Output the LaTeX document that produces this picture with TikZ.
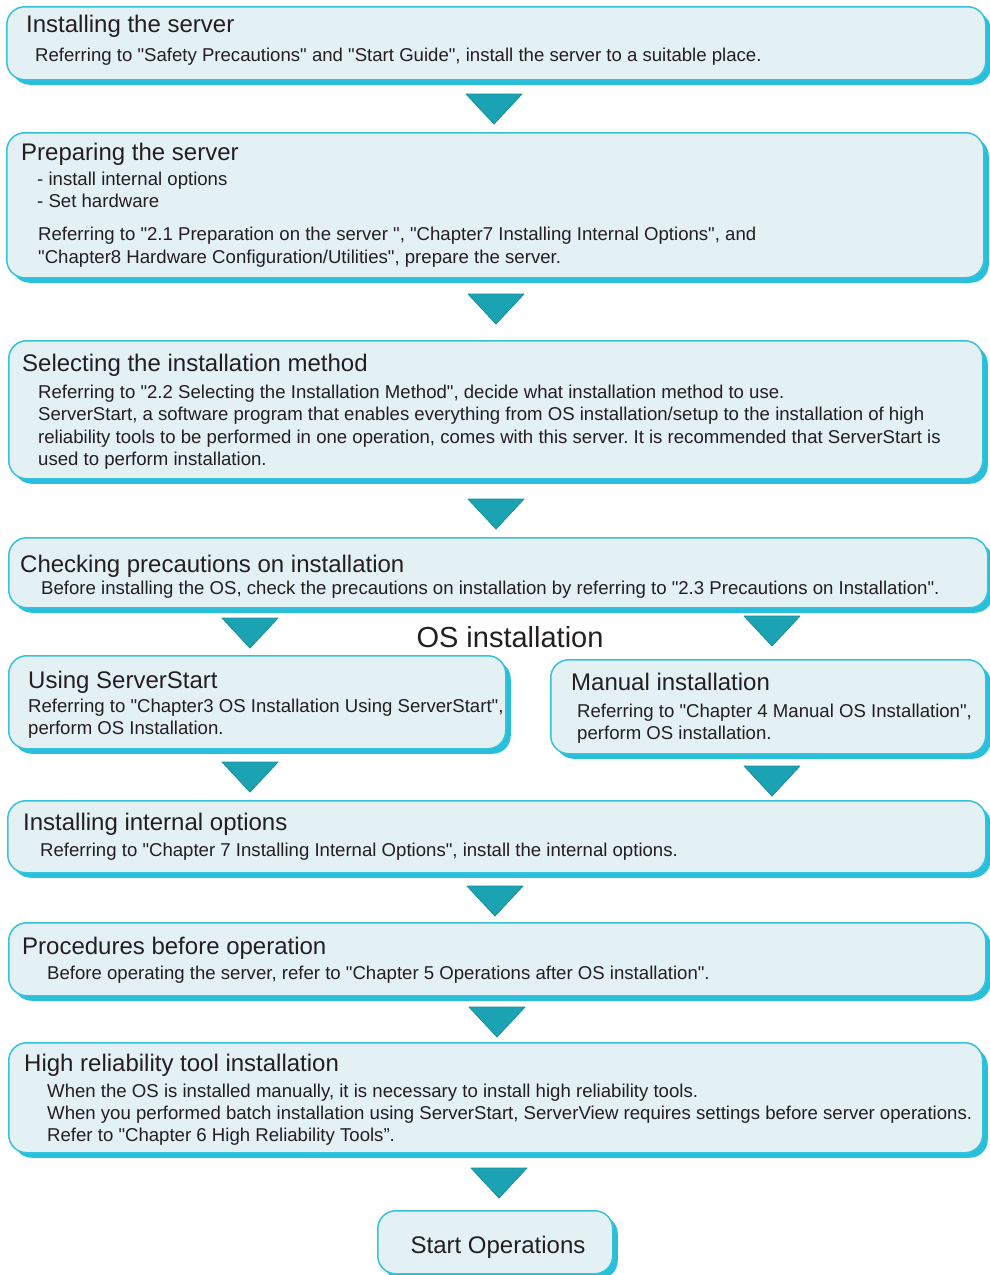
\documentclass[tikz,border=0pt]{standalone}
\usepackage{fontspec}
\setmainfont{Liberation Sans}[Ligatures=TeXOff]
\usetikzlibrary{shadows}
\definecolor{boxfill}{HTML}{E3F0F4}
\definecolor{boxline}{HTML}{36C2DC}
\definecolor{shadowc}{HTML}{27BFDA}
\definecolor{trifill}{HTML}{1BA3B4}
\definecolor{triline}{HTML}{178E9B}
\definecolor{txt}{HTML}{231F20}
\frenchspacing
\tikzset{
  stage/.style={draw=boxline, line width=1.5pt, fill=boxfill, rounded corners=18pt,
    anchor=north west, inner sep=0pt,
    drop shadow={shadow xshift=5pt, shadow yshift=-5pt, fill=shadowc, opacity=1}},
  ttl/.style={anchor=west, inner sep=0pt, text=txt, font=\fontsize{24}{28}\selectfont\frenchspacing,
    text height=21pt, text depth=5pt},
  bdy/.style={anchor=west, inner sep=0pt, text=txt, font=\fontsize{18.6}{22}\selectfont\frenchspacing,
    text height=17.3pt, text depth=3.9pt},
  tri/.style={fill=trifill, draw=triline, line width=0.8pt, line join=round}
}
\newcommand\downtri[2]{\path[tri] (#1-28,#2) -- (#1+28,#2) -- (#1,#2+30) -- cycle;}
\begin{document}
\begin{tikzpicture}[x=1pt,y=-1pt]
\useasboundingbox (0,0) rectangle (990,1275);
% boxes
\node[stage, minimum width=979pt, minimum height=73pt] (b1) at (6,6) {};
\node[stage, minimum width=977pt, minimum height=145pt] (b2) at (6,132) {};
\node[stage, minimum width=974pt, minimum height=138pt] (b3) at (8,340) {};
\node[stage, minimum width=979pt, minimum height=70pt] (b4) at (8,537) {};
\node[stage, minimum width=497pt, minimum height=93pt] (b5) at (8,655) {};
\node[stage, minimum width=435pt, minimum height=94pt] (b6) at (550,659) {};
\node[stage, minimum width=978pt, minimum height=72pt] (b7) at (7,800) {};
\node[stage, minimum width=977pt, minimum height=73pt] (b8) at (8,922) {};
\node[stage, minimum width=974pt, minimum height=110pt] (b9) at (8,1042) {};
\node[stage, minimum width=235pt, minimum height=63pt] (b10) at (377,1210) {};
% triangles
\downtri{494}{94}
\downtri{496}{294}
\downtri{496}{499}
\downtri{250}{618}
\downtri{772}{616}
\downtri{250}{762}
\downtri{772}{766}
\downtri{495}{886}
\downtri{497}{1007}
\downtri{499}{1168}
% texts
\node[ttl] (t1) at (26,24) {Installing the server};
\node[bdy] (t1a) at (35,55) {Referring to "Safety Precautions" and "Start Guide", install the server to a suitable place.};

\node[ttl] (t2) at (21,152) {Preparing the server};
\node[bdy] (t2a) at (37,179) {- install internal options};
\node[bdy] (t2b) at (37,201) {- Set hardware};
\node[bdy] (t2c) at (38,234) {Referring to "2.1 Preparation on the server ", "Chapter7 Installing Internal Options", and};
\node[bdy] (t2d) at (38,257) {"Chapter8 Hardware Configuration/Utilities", prepare the server.};

\node[ttl] (t3) at (22,363) {Selecting the installation method};
\node[bdy] (t3a) at (38,392) {Referring to "2.2 Selecting the Installation Method", decide what installation method to use.};
\node[bdy] (t3b) at (38,414) {ServerStart, a software program that enables everything from OS installation/setup to the installation of high};
\node[bdy] (t3c) at (38,437) {reliability tools to be performed in one operation, comes with this server. It is recommended that ServerStart is};
\node[bdy] (t3d) at (38,459) {used to perform installation.};

\node[ttl] (t4) at (20,564) {Checking precautions on installation};
\node[bdy] (t4a) at (41,588) {Before installing the OS, check the precautions on installation by referring to "2.3 Precautions on Installation".};

\node[inner sep=0pt, text=txt, font=\fontsize{29}{33}\selectfont, text height=21pt, text depth=0pt] (os) at (510,637) {OS installation};

\node[ttl] (t5) at (28,680) {Using ServerStart};
\node[bdy] (t5a) at (28,706) {Referring to "Chapter3 OS Installation Using ServerStart",};
\node[bdy] (t5b) at (28,728) {perform OS Installation.};

\node[ttl] (t6) at (571,682) {Manual installation};
\node[bdy] (t6a) at (577,711) {Referring to "Chapter 4 Manual OS Installation",};
\node[bdy] (t6b) at (577,733) {perform OS installation.};

\node[ttl] (t7) at (23,822) {Installing internal options};
\node[bdy] (t7a) at (40,850) {Referring to "Chapter 7 Installing Internal Options", install the internal options.};

\node[ttl] (t8) at (22,946) {Procedures before operation};
\node[bdy] (t8a) at (47,973) {Before operating the server, refer to "Chapter 5 Operations after OS installation".};

\node[ttl] (t9) at (24,1063) {High reliability tool installation};
\node[bdy] (t9a) at (47,1091) {When the OS is installed manually, it is necessary to install high reliability tools.};
\node[bdy] (t9b) at (47,1113) {When you performed batch installation using ServerStart, ServerView requires settings before server operations.};
\node[bdy] (t9c) at (47,1135) {Refer to "Chapter 6 High Reliability Tools”.};

\node[ttl, anchor=center] (t10) at (498,1245) {Start Operations};
\end{tikzpicture}
\end{document}
